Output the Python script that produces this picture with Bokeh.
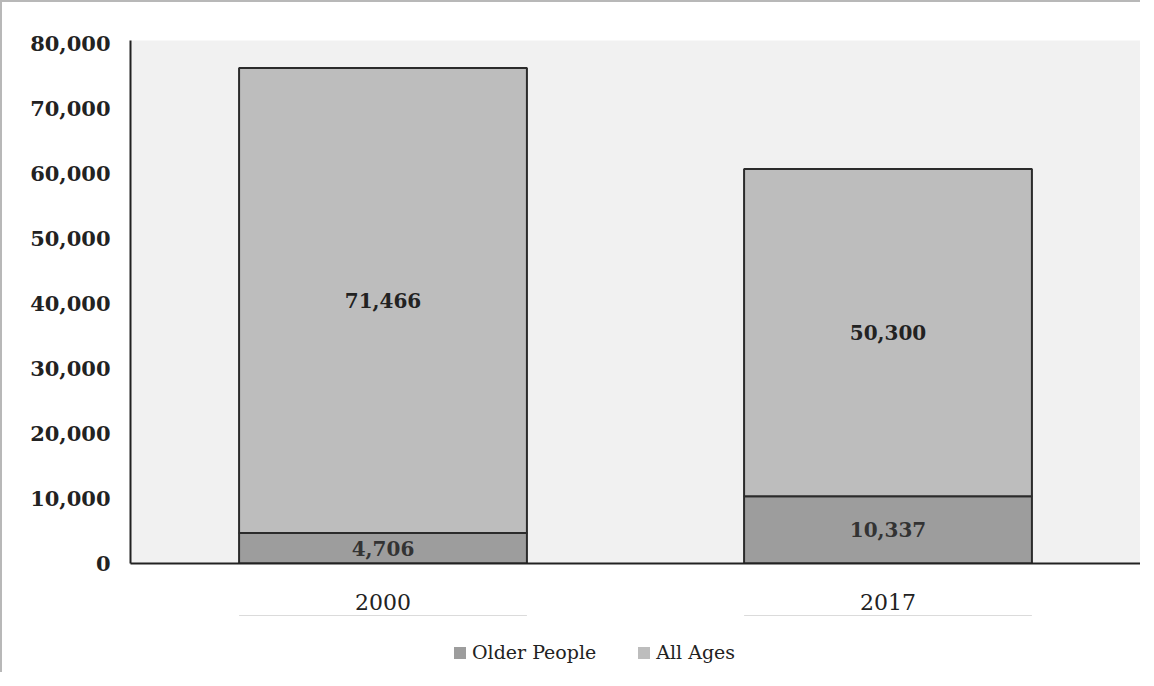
from bokeh.plotting import figure
from bokeh.layouts import column
from bokeh.models import (ColumnDataSource, Legend, LegendItem, NumeralTickFormatter,
                          Range1d, FactorRange, LabelSet)
from bokeh.embed import file_html
from bokeh.resources import INLINE
from bokeh.core.properties import value

years = ["2000", "2017"]
older_people = [4706, 10337]
all_ages = [71466, 50300]
y_ticks = [0, 10000, 20000, 30000, 40000, 50000, 60000, 70000, 80000]
series_names = ["Older People", "All Ages"]

older_color = "#9d9d9d"
all_color = "#bdbdbd"
font = "DejaVu Serif"

src = ColumnDataSource(dict(
    year=years,
    older=older_people,
    all=all_ages,
    older_mid=[o / 2 for o in older_people],
    all_mid=[o + a / 2 for o, a in zip(older_people, all_ages)],
    older_lbl=[f"{v:,}" for v in older_people],
    all_lbl=[f"{v:,}" for v in all_ages],
))

p = figure(x_range=FactorRange(*years, range_padding=0), y_range=Range1d(0, 80400),
           width=1138, height=613, output_backend="svg", toolbar_location=None,
           min_border_left=128, min_border_right=0, min_border_top=38, min_border_bottom=52)

p.background_fill_color = "#f1f1f1"
p.border_fill_color = "white"
p.outline_line_color = None
p.grid.visible = False

r = p.vbar_stack(["older", "all"], x="year", width=0.57, source=src,
                 color=[older_color, all_color], line_color="#2b2b2b", line_width=2)

lbl1 = LabelSet(x="year", y="older_mid", text="older_lbl", source=src,
                text_align="center", text_baseline="middle",
                text_font=value(font), text_font_size="20px", text_font_style="bold",
                text_color="#333333")
lbl2 = LabelSet(x="year", y="all_mid", text="all_lbl", source=src,
                text_align="center", text_baseline="middle",
                text_font=value(font), text_font_size="20px", text_font_style="bold",
                text_color="#222222")
p.add_layout(lbl1)
p.add_layout(lbl2)

p.yaxis.ticker = y_ticks
p.yaxis.formatter = NumeralTickFormatter(format="0,0")
for ax in (p.xaxis, p.yaxis):
    ax.axis_line_color = "#222222"
    ax.axis_line_width = 2
    ax.major_tick_line_color = None
    ax.minor_tick_line_color = None
    ax.major_label_text_font = font
    ax.major_label_text_color = "#222222"
p.yaxis.major_label_text_font_size = "21px"
p.yaxis.major_label_text_font_style = "bold"
p.yaxis.major_label_standoff = 14
p.xaxis.major_label_text_font_size = "22px"
p.xaxis.major_label_standoff = 24

# legend strip below the chart (its own bars lie outside its visible y range)
pl = figure(width=1138, height=57, output_backend="svg", toolbar_location=None,
            x_axis_type=None, y_axis_type=None, x_range=p.x_range, y_range=Range1d(-2, -1),
            min_border_left=0, min_border_right=0, min_border_top=0, min_border_bottom=0)
pl.outline_line_color = None
pl.grid.visible = False
pl.background_fill_color = "white"
pl.border_fill_color = "white"
sw = pl.vbar_stack(["older", "all"], x="year", width=0.57, source=src,
                   fill_color=[older_color, all_color], line_color=None)

legend = Legend(items=[LegendItem(label=series_names[0], renderers=[sw[0]]),
                       LegendItem(label=series_names[1], renderers=[sw[1]])],
                orientation="horizontal", location=(322, 9),
                label_text_font=font, label_text_font_size="19px", label_text_color="#222222",
                glyph_width=15, glyph_height=15, spacing=40, label_standoff=5,
                padding=5, margin=0,
                background_fill_alpha=0, border_line_color=None)
pl.add_layout(legend, "center")

layout = column(p, pl, spacing=0)
layout.styles = {"border-top": "2px solid #b8b8b8", "border-left": "2px solid #b8b8b8"}

open("out.html", "w").write(file_html(layout, INLINE))
